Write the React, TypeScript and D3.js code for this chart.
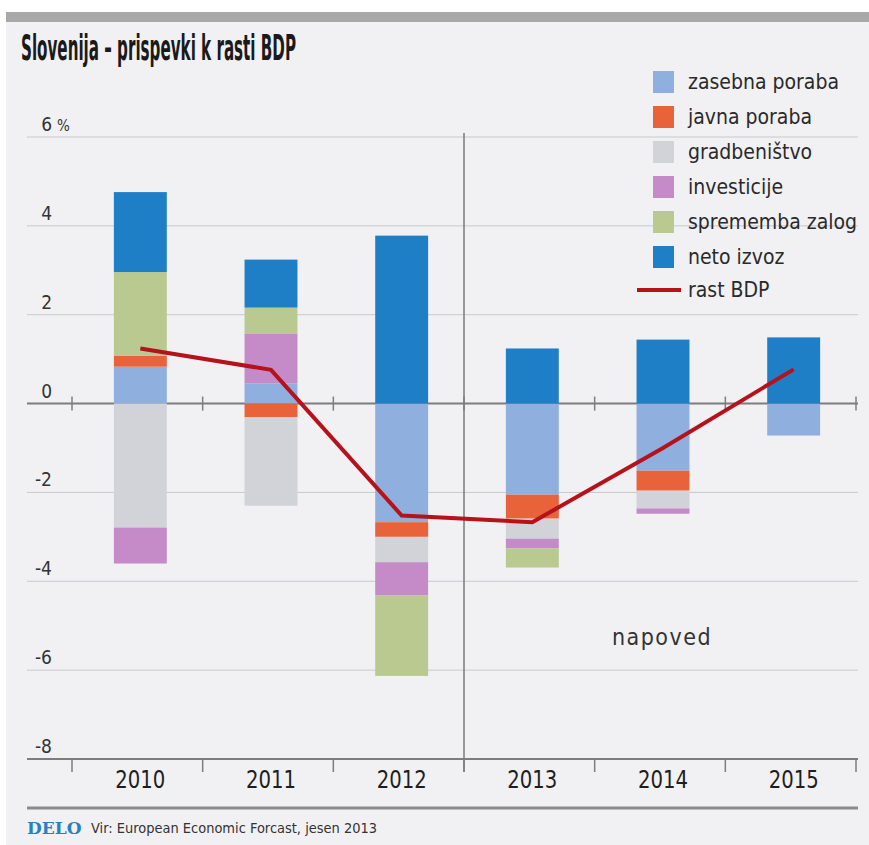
import React from "react";
import * as d3 from "d3";

const years = ["2010", "2011", "2012", "2013", "2014", "2015"];
const seriesNames = [
  "zasebna poraba",
  "javna poraba",
  "gradbeništvo",
  "investicije",
  "sprememba zalog",
  "neto izvoz",
];
const zasebnaPoraba = [0.83, 0.45, -2.67, -2.05, -1.51, -0.72];
const javnaPoraba = [0.25, -0.31, -0.33, -0.54, -0.45, 0];
const gradbenistvo = [-2.79, -1.99, -0.57, -0.45, -0.4, 0];
const investicije = [-0.81, 1.13, -0.75, -0.22, -0.12, 0];
const spremembaZalog = [1.88, 0.58, -1.81, -0.43, 0, 0];
const netoIzvoz = [1.8, 1.08, 3.78, 1.24, 1.44, 1.49];
const rastBDP = [1.24, 0.76, -2.52, -2.67, -1.0, 0.77];
const yTicks = [6, 4, 2, 0, -2, -4, -6, -8];

const colors = ["#8fb0de", "#e8623a", "#d2d3d8", "#c48bc8", "#b9c98f", "#1f7fc6"];
const lineColor = "#b5121b";
const FONT = "'DejaVu Sans Condensed', 'Liberation Sans Narrow', 'Roboto', sans-serif";

export default function App() {
  const W = 869;
  const H = 845;
  const y = d3.scaleLinear().domain([-8, 6]).range([759, 137]);
  const x = d3.scaleBand().domain(years).range([72, 856]);
  const bw = x.bandwidth() * 0.405;
  const cx = (yr: string) => (x(yr) as number) + x.bandwidth() / 2 + 3;

  const allSeries = [zasebnaPoraba, javnaPoraba, gradbenistvo, investicije, spremembaZalog, netoIzvoz];
  const table = years.map((yr, i) => {
    const row: any = { year: yr };
    seriesNames.forEach((n, k) => (row[n] = allSeries[k][i]));
    return row;
  });
  const stacked = d3
    .stack<any>()
    .keys(seriesNames)
    .offset(d3.stackOffsetDiverging)(table);

  const line = d3
    .line<number>()
    .x((_, i) => cx(years[i]))
    .y((d) => y(d));

  const gridX0 = 27;
  const gridX1 = 858;
  const boundaries = [...years.map((yr) => x(yr) as number), 856];

  return (
    <svg
      width={W}
      height={H}
      style={{ position: "absolute", left: 0, top: 0, display: "block" }}
      fontFamily={FONT}
    >
      <rect x={0} y={0} width={W} height={H} fill="#ffffff" />
      <rect x={6} y={12} width={W - 6} height={H - 12} fill="#f1f1f4" />
      <rect x={6} y={12} width={W - 6} height={10} fill="#a8a8a8" />

      <text
        x={21}
        y={60}
        fontSize={35}
        fontWeight="bold"
        fill="#1a1a1a"
        textLength={275}
        lengthAdjust="spacingAndGlyphs"
      >
        Slovenija – prispevki k rasti BDP
      </text>

      {/* gridlines */}
      {yTicks.map((t) => (
        <line
          key={t}
          x1={gridX0}
          x2={gridX1}
          y1={y(t)}
          y2={y(t)}
          stroke={t === 0 || t === -8 ? "#7d7d7d" : "#c9c9cc"}
          strokeWidth={t === 0 || t === -8 ? 2 : 1}
        />
      ))}
      {yTicks.map((t) => (
        <g key={"l" + t}>
          <text x={52} y={y(t) - 6} fontSize={19} textAnchor="end" fill="#333">
            {t < 0 ? "-" + Math.abs(t) : String(t)}
          </text>
          {t === 6 && (
            <text x={57} y={y(t) - 6} fontSize={15} fill="#333">
              %
            </text>
          )}
        </g>
      ))}

      {/* divider */}
      <line
        x1={x("2013") as number}
        x2={x("2013") as number}
        y1={133}
        y2={772}
        stroke="#7a7a7a"
        strokeWidth={1.5}
      />

      {/* bars */}
      {stacked.map((s, k) => (
        <g key={s.key} fill={colors[k]}>
          {s.map((d, i) => {
            const top = y(Math.max(d[0], d[1]));
            const bot = y(Math.min(d[0], d[1]));
            if (bot - top < 0.01) return null;
            return (
              <rect key={i} x={cx(years[i]) - bw / 2} y={top} width={bw} height={bot - top} />
            );
          })}
        </g>
      ))}

      {/* zero axis ticks */}
      {boundaries.map((b, i) => (
        <line key={"zt" + i} x1={b} x2={b} y1={y(0) - 7} y2={y(0) + 7} stroke="#7d7d7d" strokeWidth={1.5} />
      ))}
      {/* bottom axis ticks */}
      {boundaries.map((b, i) => (
        <line key={"bt" + i} x1={b} x2={b} y1={y(-8)} y2={y(-8) + 13} stroke="#7d7d7d" strokeWidth={1.5} />
      ))}
      {years.map((yr) => (
        <text
          key={yr}
          x={cx(yr)}
          y={788}
          fontSize={24}
          textAnchor="middle"
          fill="#1e1e1e"
          textLength={50}
          lengthAdjust="spacingAndGlyphs"
        >
          {yr}
        </text>
      ))}

      {/* GDP line */}
      <path d={line(rastBDP) || ""} fill="none" stroke={lineColor} strokeWidth={4} strokeLinejoin="miter" />

      <text x={662} y={645} fontSize={23} textAnchor="middle" fill="#333" letterSpacing={1.5}>
        napoved
      </text>

      {/* legend */}
      {seriesNames.map((n, k) => (
        <g key={n} transform={`translate(653, ${82 + k * 35})`}>
          <rect x={0} y={-11} width={21} height={22} fill={colors[k]} />
          <text x={35} y={7} fontSize={21} fill="#2a2a2a">
            {n}
          </text>
        </g>
      ))}
      <g transform="translate(637, 290)">
        <line x1={0} x2={44} y1={0} y2={0} stroke={lineColor} strokeWidth={4} />
        <text x={51} y={7} fontSize={21} fill="#2a2a2a">
          rast BDP
        </text>
      </g>

      {/* footer */}
      <line x1={27} x2={858} y1={808} y2={808} stroke="#8a8a8a" strokeWidth={3} />
      <text
        x={27}
        y={834}
        fontSize={17}
        fontWeight="bold"
        fontFamily="'DejaVu Serif', 'Liberation Serif', serif"
        fill="#2a7fc0"
      >
        DELO
      </text>
      <text x={91} y={833} fontSize={14} fill="#333" textLength={286} lengthAdjust="spacingAndGlyphs">
        Vir: European Economic Forcast, jesen 2013
      </text>
    </svg>
  );
}
